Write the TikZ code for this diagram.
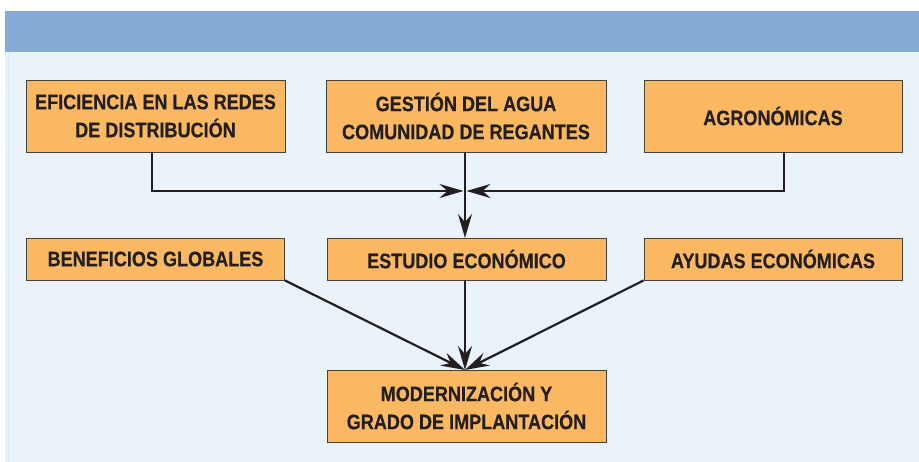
\documentclass[tikz,border=0pt]{standalone}
\usepackage{fontspec}
\setmainfont{Liberation Sans}[FakeStretch=0.86,BoldFeatures={FakeBold=0.4}]
\usetikzlibrary{arrows.meta,calc}
\definecolor{hdr}{HTML}{85AAD4}
\definecolor{bgc}{HTML}{EAF2FA}
\definecolor{orng}{HTML}{FBB862}
\definecolor{ink}{HTML}{231F20}
\begin{document}
\begin{tikzpicture}[x=1pt,y=-1pt,
  box/.style={draw=ink!85,line width=0.9pt,fill=orng,align=center,inner sep=0pt,
     font=\fontsize{21}{28}\selectfont\bfseries,text=ink},
  big/.style={box,minimum height=72pt},
  small/.style={box,minimum height=42pt},
  conn/.style={draw=ink,line width=2.2pt},
  arr/.style={conn,-{Stealth[length=24pt,width=14pt,inset=8pt]}}]
\useasboundingbox (0,0) rectangle (919,462);
\fill[white] (0,0) rectangle (919,462);
\fill[bgc] (5,52) rectangle (919,462);
\fill[hdr] (5,11) rectangle (919,52);
\draw[bgc!85!hdr,line width=1pt] (8.5,52) -- (8.5,462);
% nodes
\node[big,minimum width=259pt] (b1) at (155.5,116) {EFICIENCIA EN LAS REDES\\DE DISTRIBUCIÓN};
\node[big,minimum width=280pt] (b2) at (466,116) {GESTIÓN DEL AGUA\\COMUNIDAD DE REGANTES};
\node[big,minimum width=258pt] (b3) at (773,116) {AGRONÓMICAS};
\node[small,minimum width=258pt] (ben) at (155.5,259) {BENEFICIOS GLOBALES};
\node[small,minimum width=279pt] (est) at (466.5,259) {ESTUDIO ECONÓMICO};
\node[small,minimum width=258pt] (ayu) at (773,259) {AYUDAS ECONÓMICAS};
\node[big,minimum width=279pt] (fin) at (466.5,406) {MODERNIZACIÓN Y\\GRADO DE IMPLANTACIÓN};
\coordinate (j) at (465,191);
\coordinate (s1) at (152,152);
\coordinate (s3) at (784,152);
% connectors
\draw[arr,shorten >=1.5pt] (s1) |- (j);
\draw[arr,shorten >=1.5pt] (s3) |- (j);
\draw[arr] (465,152) -- (465,238);
\draw[arr] (ben.south east) -- (465,370);
\draw[arr] (465,280) -- (465,370);
\draw[arr] (ayu.south west) -- (465,370);
\end{tikzpicture}
\end{document}
